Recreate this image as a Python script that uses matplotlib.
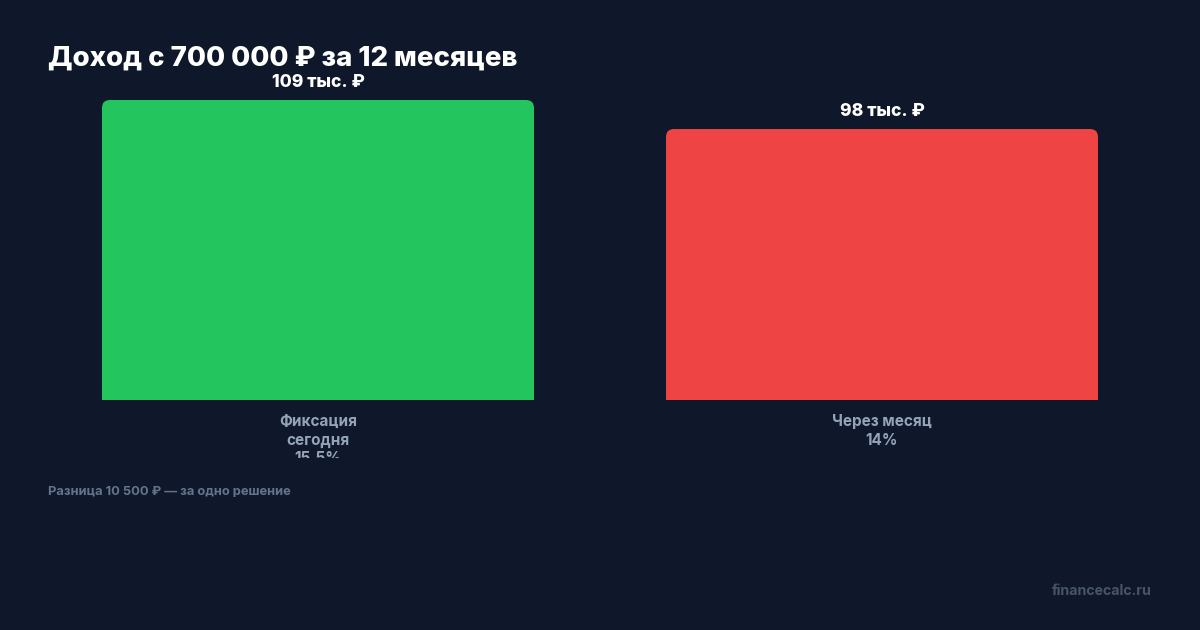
import matplotlib
matplotlib.use('Agg')
import matplotlib.pyplot as plt
from matplotlib.path import Path
from matplotlib.patches import PathPatch
from matplotlib.transforms import offset_copy, Bbox
import numpy as np

categories = ['Фиксация\nсегодня\n15.5%', 'Через месяц\n14%']
values = [108500, 98000]
value_labels = ['109 тыс. ₽', '98 тыс. ₽']
colors = ['#22c55e', '#ef4444']
title = 'Доход с 700 000 ₽ за 12 месяцев'
note = 'Разница 10 500 ₽ — за одно решение'
brand = 'financecalc.ru'

W, H = 1200, 630
BG = '#0f172a'
plt.rcParams['font.family'] = ['Inter', 'DejaVu Sans']

fig = plt.figure(figsize=(12, 6.3), dpi=100, facecolor=BG)
ax = fig.add_axes([48 / W, 1 - 400 / H, 1104 / W, 300 / H])
ax.set_facecolor(BG)
ax.set_xlim(-270 / 564, 1 + 270 / 564)
ax.set_ylim(0, max(values))
ax.axis('off')

x = np.arange(len(values))
bw = 432 / 564
bars = ax.bar(x, values, width=bw, color=colors)

# rounded top corners
rx = 8 / 564
ry = 8 * max(values) / 300
for b, c in zip(bars, colors):
    x0, y0 = b.get_x(), b.get_y()
    x1, y1 = x0 + b.get_width(), y0 + b.get_height()
    verts = [(x0, y0), (x1, y0), (x1, y1 - ry), (x1, y1), (x1 - rx, y1),
             (x0 + rx, y1), (x0, y1), (x0, y1 - ry), (x0, y0), (x0, y0)]
    codes = [Path.MOVETO, Path.LINETO, Path.LINETO, Path.CURVE3, Path.CURVE3,
             Path.LINETO, Path.CURVE3, Path.CURVE3, Path.LINETO, Path.CLOSEPOLY]
    b.set_visible(False)
    ax.add_patch(PathPatch(Path(verts, codes), facecolor=c, edgecolor='none'))

# value labels
for xi, v, lab in zip(x, values, value_labels):
    tr = offset_copy(ax.transData, fig=fig, x=0, y=13, units='dots')
    ax.text(xi, v, lab, transform=tr, ha='center', va='baseline',
            color='white', fontsize=12.6, fontweight='heavy', clip_on=False)

# category labels (clipped at bottom like the reference)
clip = Bbox([[0, H - 458], [W, H]])
for xi, cat in zip(x, categories):
    tr = offset_copy(ax.transData, fig=fig, x=0, y=-14, units='dots')
    t = ax.text(xi, 0, cat, transform=tr, ha='center', va='top',
                color='#94a3b8', fontsize=11, fontweight='bold',
                linespacing=1.3)
    t.set_clip_path(None)
    t.set_clip_on(True)
    t.set_clip_box(clip)

fig.text(48 / W, 1 - 66 / H, title, ha='left', va='baseline', color='white',
         fontsize=19.9, fontweight='heavy')
fig.text(48 / W, 1 - 495 / H, note, ha='left', va='baseline', color='#64748b',
         fontsize=9.3, fontweight='bold')
fig.text(1152 / W, 1 - 595 / H, brand, ha='right', va='baseline', color='#475569',
         fontsize=10.2, fontweight='bold')

fig.savefig('out.png', dpi=100, facecolor=BG)
